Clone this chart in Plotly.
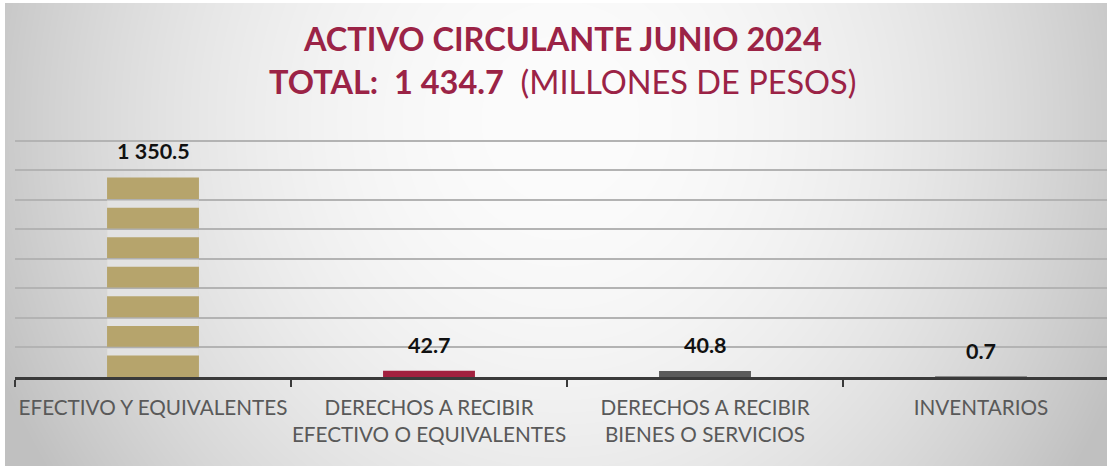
import base64, struct, zlib
import numpy as np
import plotly.graph_objects as go

# ---------------- data ----------------
categories = ["EFECTIVO Y EQUIVALENTES",
              "DERECHOS A RECIBIR<br>EFECTIVO O EQUIVALENTES",
              "DERECHOS A RECIBIR<br>BIENES O SERVICIOS",
              "INVENTARIOS"]
values = [1350.5, 42.7, 40.8, 0.7]
value_labels = ["1 350.5", "42.7", "40.8", "0.7"]
bar_colors = ["#B6A46C", "#A2213F", "#5B5B5B", "#8C8C8C"]
y_ticks = [0, 200, 400, 600, 800, 1000, 1200, 1400, 1600]
title_line1 = "<b>ACTIVO CIRCULANTE JUNIO 2024</b>"
title_line2 = "<b>TOTAL:\u00a0 1 434.7</b>\u00a0 (MILLONES DE PESOS)"

# ---------------- background gradient (style only) ----------------
W, H = 1102, 463
xs = np.arange(W)[None, :] + 5
ys = np.arange(H)[:, None] + 3
d2 = ((xs - 560) / 580.0) ** 2 + ((ys - 120) / 620.0) ** 2
g = 252 - 54 * np.minimum(d2, 1.1)
img = np.clip(g, 0, 255).astype(np.uint8)

def png_gray(a):
    h, w = a.shape
    raw = b"".join(b"\x00" + a[r].tobytes() for r in range(h))
    def chunk(t, d):
        c = struct.pack(">I", len(d)) + t + d
        return c + struct.pack(">I", zlib.crc32(t + d) & 0xffffffff)
    return (b"\x89PNG\r\n\x1a\n" + chunk(b"IHDR", struct.pack(">IIBBBBB", w, h, 8, 0, 0, 0, 0))
            + chunk(b"IDAT", zlib.compress(raw, 9)) + chunk(b"IEND", b""))

bg_uri = "data:image/png;base64," + base64.b64encode(png_gray(img)).decode()

# ---------------- figure ----------------
FIG_W, FIG_H = 1107, 466
ML, MR, MT, MB = 15, 0, 137, 89
plot_w = FIG_W - ML - MR
plot_h = FIG_H - MT - MB
cat_px = 276.0
x_max = -0.5 + plot_w / cat_px
bar_w = 0.333
y_top = y_ticks[-1] * 1.015

fig = go.Figure()
fig.add_trace(go.Bar(
    x=categories, y=values, width=bar_w,
    marker=dict(color=bar_colors, line=dict(width=0)),
    hoverinfo="skip", showlegend=False,
))

# value labels
for i, (v, lab) in enumerate(zip(values, value_labels)):
    fig.add_annotation(x=categories[i], y=v, text=f"<b>{lab}</b>", showarrow=False,
                       yanchor="bottom", yshift=11,
                       font=dict(family="Lato", size=21.5, color="#111111"))

# Excel-like gaps where gridlines cross bars
units_per_px = y_top / plot_h
gap = 8 * units_per_px
for i, v in enumerate(values):
    for t in y_ticks[1:]:
        if t < v:
            fig.add_shape(type="rect", xref="x", yref="y",
                          x0=i - bar_w / 2, x1=i + bar_w / 2, y0=t - gap, y1=t,
                          fillcolor="#E2E2E2", line=dict(width=0), layer="above")
            fig.add_shape(type="line", xref="x", yref="y",
                          x0=i - bar_w / 2, x1=i + bar_w / 2, y0=t, y1=t,
                          line=dict(color="#AFAFAF", width=1.5), layer="above")

# title
fig.add_annotation(xref="paper", yref="paper", x=0.501, y=(plot_h + MT - 39) / plot_h,
                   text=title_line1, showarrow=False, xanchor="center", yanchor="middle",
                   font=dict(family="Lato", size=32.5, color="#9B2346"))
fig.add_annotation(xref="paper", yref="paper", x=0.501, y=(plot_h + MT - 82) / plot_h,
                   text=title_line2, showarrow=False, xanchor="center", yanchor="middle",
                   font=dict(family="Lato", size=32.5, color="#9B2346"))

fig.add_layout_image(dict(
    source=bg_uri, xref="paper", yref="paper",
    x=(5 - ML) / plot_w, y=(MT + plot_h - 3) / plot_h,
    sizex=W / plot_w, sizey=H / plot_h,
    xanchor="left", yanchor="top", sizing="stretch", layer="below",
))

fig.update_layout(
    width=FIG_W, height=FIG_H,
    margin=dict(l=ML, r=MR, t=MT, b=MB, pad=0, autoexpand=False),
    paper_bgcolor="white", plot_bgcolor="rgba(0,0,0,0)",
    xaxis=dict(
        type="category", categoryorder="array", categoryarray=categories,
        range=[-0.5, x_max], tickson="boundaries", ticks="outside", ticklen=7,
        tickwidth=2, tickcolor="#3A3A3A", showline=True, linecolor="#3A3A3A",
        linewidth=2.5, showgrid=False, zeroline=False, ticklabelstandoff=10,
        tickfont=dict(family="Lato", size=20.7, color="#595959"), tickangle=0,
        automargin=False,
    ),
    yaxis=dict(
        range=[0, y_top], tickmode="array", tickvals=y_ticks, showticklabels=False,
        showgrid=True, gridcolor="#B3B3B3", gridwidth=1.5, zeroline=False,
        showline=False, ticks="", automargin=False,
    ),
)

fig.write_html("out.html", config={"displayModeBar": False},
               post_script="document.body.style.margin='0';")
